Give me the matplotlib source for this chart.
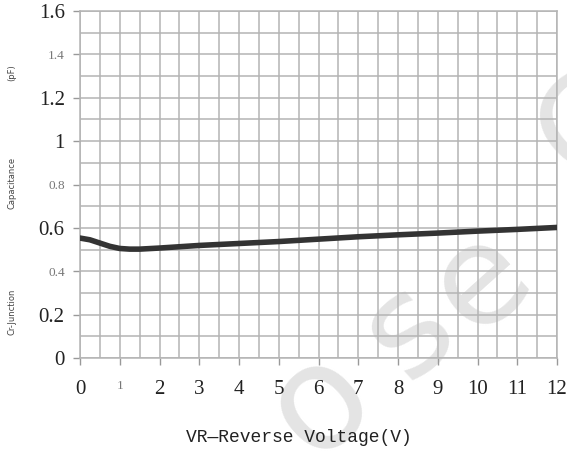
import numpy as np
import matplotlib
matplotlib.use("Agg")
import matplotlib.pyplot as plt
from matplotlib.ticker import MultipleLocator

# curve
vr = [0, 0.25, 0.5, 0.75, 1.0, 1.25, 1.5, 2, 3, 4, 5, 6, 7, 8, 9, 10, 11, 12]
cj = [0.553, 0.545, 0.530, 0.515, 0.505, 0.502, 0.502, 0.507, 0.519, 0.528,
      0.537, 0.548, 0.559, 0.568, 0.576, 0.585, 0.593, 0.602]

x_ticks = list(range(0, 13))
x_labels = [str(v) for v in x_ticks]
y_ticks = [0, 0.2, 0.4, 0.6, 0.8, 1.0, 1.2, 1.4, 1.6]
y_labels = ["0", "0.2", "0.4", "0.6", "0.8", "1", "1.2", "1.4", "1.6"]
faint_y = ["0.4", "0.8", "1.4"]   # printed smaller/greyer in the scan
faint_x = ["1"]

fig = plt.figure(figsize=(5.67, 4.53), dpi=100)
ax = fig.add_axes([80 / 567, 1 - 358 / 453, 477 / 567, 347 / 453])

ax.set_xlim(0, 12)
ax.set_ylim(0, 1.6)
ax.set_axisbelow(True)

ax.xaxis.set_minor_locator(MultipleLocator(0.5))
ax.yaxis.set_minor_locator(MultipleLocator(0.1))
ax.grid(which="both", color="#b4b4b4", linewidth=1.1)
ax.tick_params(which="minor", length=0)
ax.tick_params(which="major", length=5, width=1, color="#999999")
ax.tick_params(axis="y", pad=6)
ax.tick_params(axis="x", pad=11)
for s in ax.spines.values():
    s.set_color("#b4b4b4")
    s.set_linewidth(1.1)

ax.set_xticks(x_ticks)
ax.set_xticklabels(x_labels)
ax.set_yticks(y_ticks)
ax.set_yticklabels(y_labels)
xlabs = ax.get_xticklabels()
for lab in xlabs + ax.get_yticklabels():
    lab.set_fontfamily("Liberation Serif")
    lab.set_fontsize(15)
    lab.set_color("#222222")
    if lab.get_text() in faint_y or (lab in xlabs and lab.get_text() in faint_x):
        lab.set_fontsize(9.5)
        lab.set_color("#777777")

ax.plot(vr, cj, color="#333333", linewidth=4, solid_capstyle="round", zorder=3)

# faint watermark letters, under the grid
for ch, px, py, fs in [("o", 320, 402, 105), ("s", 408, 330, 100),
                       ("e", 480, 280, 100), ("C", 590, 128, 95)]:
    ax.text(px / 567, 1 - py / 453, ch, transform=fig.transFigure,
            fontsize=fs, color="#e4e4e4", rotation=42, ha="center",
            va="center", family="DejaVu Sans",
            zorder=0.3, clip_on=False)

ax.set_xlabel("VR\u2014Reverse Voltage(V)", family="Liberation Mono",
              fontsize=13, color="#222222")
ax.xaxis.set_label_coords((299 - 80) / 477, -(429 - 358) / 347)

for txt, yp in [("(pF)", 73), ("Capacitance", 183), ("Cr-Junction", 312)]:
    fig.text(12 / 567, 1 - yp / 453, txt, rotation=90, fontsize=6,
             family="Liberation Sans Narrow", color="#444444",
             ha="center", va="center")

fig.savefig("out.png", dpi=100)
